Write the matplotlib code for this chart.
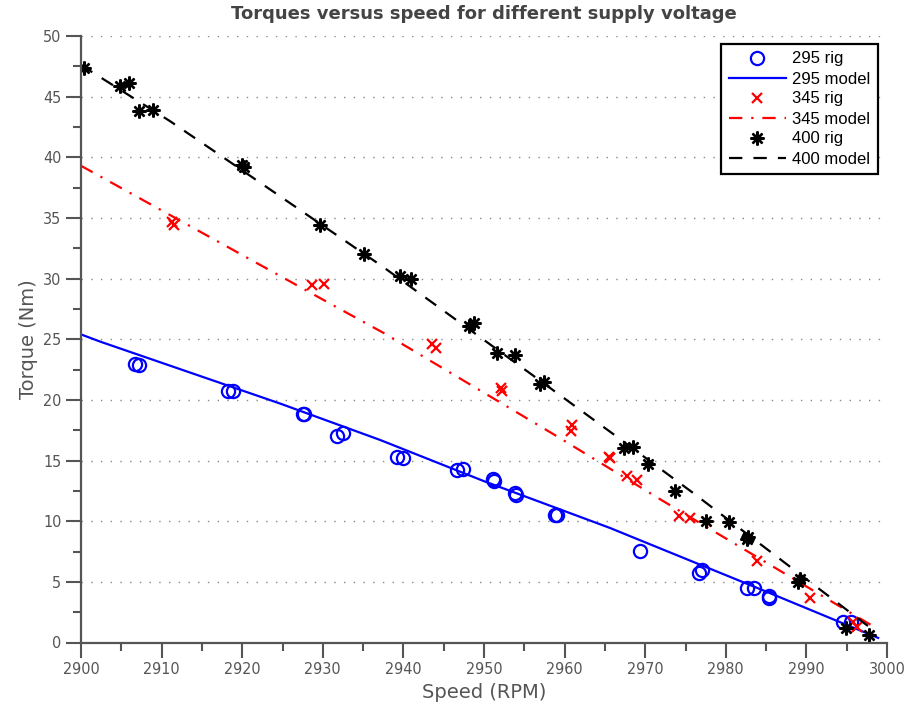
import matplotlib
matplotlib.use("Agg")
import matplotlib.pyplot as plt
from matplotlib.ticker import MultipleLocator

# Measured torque (rig) and model curves at three supply voltages
speed_295_rig = [2906.7, 2907.2, 2918.2, 2918.8, 2927.6, 2927.7, 2931.7, 2932.5, 2939.2, 2940.0,
                 2946.6, 2947.4, 2951.1, 2951.2, 2953.8, 2954.0, 2958.8, 2959.1, 2969.3, 2976.7,
                 2977.1, 2982.6, 2983.5, 2985.3, 2985.4, 2994.6, 2995.5]
torque_295_rig = [23.0, 22.9, 20.7, 20.7, 18.8, 18.8, 17.05, 17.25, 15.3, 15.2,
                  14.2, 14.3, 13.5, 13.3, 12.3, 12.2, 10.5, 10.5, 7.57, 5.7,
                  5.98, 4.47, 4.5, 3.64, 3.8, 1.67, 1.7]
speed_295_model = [2900.0, 2902.4, 2924.7, 2937.1, 2950.0, 2965.6, 2985.0, 2998.9]
torque_295_model = [25.4, 24.8, 19.7, 16.7, 13.3, 9.45, 4.2, 0.38]

speed_345_rig = [2911.3, 2911.6, 2928.6, 2930.1, 2943.5, 2944.0, 2952.1, 2952.2, 2960.9, 2960.8,
                 2965.5, 2965.6, 2967.8, 2969.0, 2974.2, 2975.6, 2983.9, 2990.4, 2995.8, 2996.3]
torque_345_rig = [34.7, 34.4, 29.5, 29.55, 24.6, 24.3, 21.0, 20.7, 17.9, 17.4,
                  15.3, 15.2, 13.7, 13.4, 10.4, 10.3, 6.7, 3.7, 1.7, 1.3]
speed_345_model = [2900.0, 2932.1, 2937.6, 2958.8, 2972.0, 2995.6, 2998.0]
torque_345_model = [39.3, 27.5, 25.5, 17.1, 11.75, 2.4, 1.45]

speed_400_rig = [2900.4, 2904.8, 2905.9, 2907.2, 2908.9, 2920.0, 2920.2, 2929.7, 2935.1, 2939.6,
                 2941.0, 2948.1, 2948.8, 2951.6, 2953.8, 2957.0, 2957.4, 2967.4, 2968.5, 2970.3,
                 2973.7, 2977.6, 2980.4, 2982.6, 2982.8, 2989.0, 2989.2, 2994.9, 2997.8]
torque_400_rig = [47.4, 45.9, 46.1, 43.8, 43.9, 39.4, 39.2, 34.4, 32.0, 30.2,
                  30.0, 26.1, 26.3, 23.9, 23.7, 21.3, 21.5, 16.0, 16.1, 14.7,
                  12.5, 10.0, 9.9, 8.5, 8.7, 5.0, 5.2, 1.2, 0.6]
speed_400_model = [2900.0, 2902.4, 2911.0, 2917.2, 2937.4, 2955.9, 2966.0, 2975.9, 2997.1, 2998.2]
torque_400_model = [47.6, 46.6, 43.0, 40.2, 31.0, 22.1, 17.2, 12.35, 1.63, 1.08]

GRAY = "#555555"
plt.rcParams["font.family"] = ["DejaVu Sans"]

fig = plt.figure(figsize=(9.07, 7.06), dpi=100)
ax = fig.add_axes([81 / 907, 1 - 642.5 / 706, 806 / 907, 606.5 / 706])

ast = (8, 2, 0)
ax.plot(speed_295_rig, torque_295_rig, linestyle="none", marker="o", markersize=9.5,
        markerfacecolor="none", markeredgecolor="#0000ff", markeredgewidth=1.6, label="295 rig")
ax.plot(speed_295_model, torque_295_model, color="#0000ff", linewidth=1.6, label="295 model")
ax.plot(speed_345_rig, torque_345_rig, linestyle="none", marker="x", markersize=7.5,
        color="#ff0000", markeredgewidth=1.6, label="345 rig")
ax.plot(speed_345_model, torque_345_model, color="#ff0000", linewidth=1.6,
        linestyle=(0, (6, 4, 1, 4)), label="345 model")
ax.plot(speed_400_rig, torque_400_rig, linestyle="none", marker=ast, markersize=10,
        color="black", markeredgewidth=1.7, label="400 rig")
ax.plot(speed_400_model, torque_400_model, color="black", linewidth=1.6,
        linestyle=(0, (6, 5)), label="400 model")

ax.set_xlim(2900, 3000)
ax.set_ylim(0, 50)
ax.xaxis.set_major_locator(MultipleLocator(10))
ax.xaxis.set_minor_locator(MultipleLocator(5))
ax.yaxis.set_major_locator(MultipleLocator(5))
ax.yaxis.set_minor_locator(MultipleLocator(2.5))

for s in ("top", "right"):
    ax.spines[s].set_visible(False)
for s in ("left", "bottom"):
    ax.spines[s].set_color(GRAY)
    ax.spines[s].set_linewidth(1.6)

ax.tick_params(which="major", direction="out", length=11, width=1.5, color=GRAY,
               labelcolor=GRAY, labelsize=11.5, pad=3)
ax.tick_params(which="minor", direction="out", length=5.5, width=1.5, color=GRAY)
for lbl in ax.get_xticklabels() + ax.get_yticklabels():
    lbl.set_fontstretch("condensed")

ax.yaxis.grid(True, which="major", color="#888888", linestyle=(0, (1, 6)), linewidth=1.0)
ax.set_axisbelow(True)

ax.set_xlabel("Speed (RPM)", color=GRAY, fontsize=14, labelpad=4)
ax.set_ylabel("Torque (Nm)", color=GRAY, fontsize=14, labelpad=4)
ax.set_title("Torques versus speed for different supply voltage", color="#444444",
             fontsize=13, fontweight="bold", pad=12)

leg = ax.legend(loc="upper right", bbox_to_anchor=(1 - 9 / 806, 1 - 8 / 606.5),
                borderaxespad=0, fancybox=False, framealpha=1, edgecolor="black",
                handlelength=3.4, labelspacing=0.3, borderpad=0.45,
                handletextpad=0.4, prop={"family": "Liberation Sans", "size": 12})
leg.get_frame().set_linewidth(1.6)

fig.savefig("out.png", dpi=100)
